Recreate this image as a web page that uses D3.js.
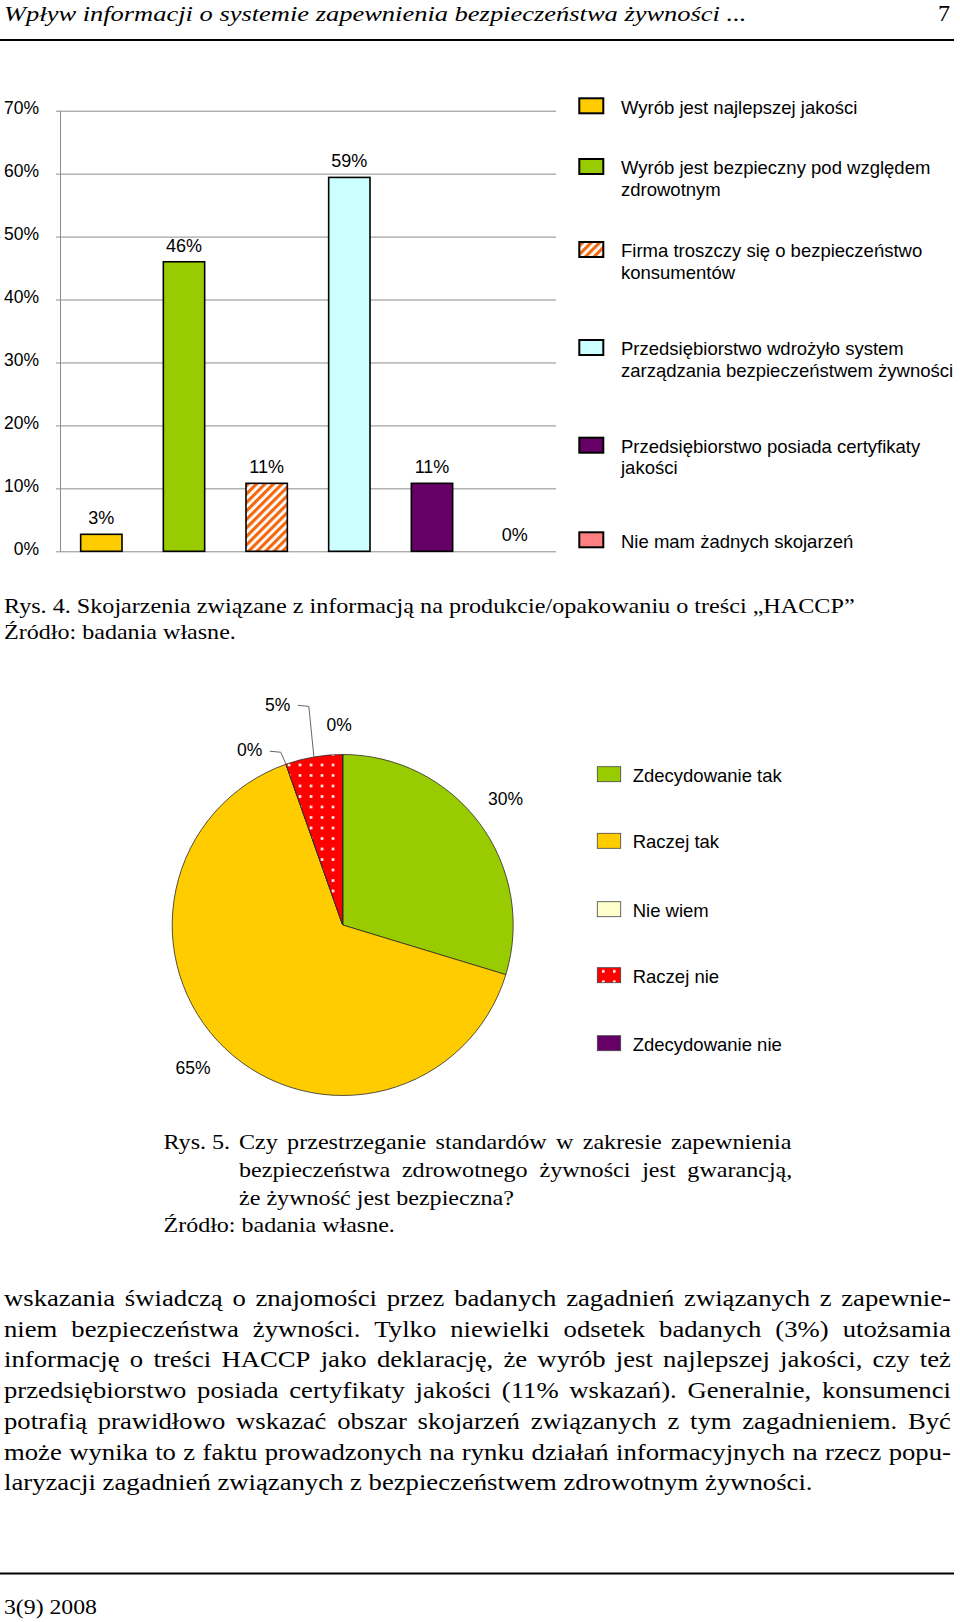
<!DOCTYPE html>
<html><head><meta charset="utf-8">
<script src="https://cdn.jsdelivr.net/npm/d3@7"></script>
<style>body{margin:0;background:#fff} svg{display:block}</style>
</head><body>
<svg id="page" width="960" height="1622"></svg>
<script>
// ---------------- DATA ----------------
const barCategories = ["Wyrób jest najlepszej jakości", "Wyrób jest bezpieczny pod względem zdrowotnym", "Firma troszczy się o bezpieczeństwo konsumentów", "Przedsiębiorstwo wdrożyło system zarządzania bezpieczeństwem żywności", "Przedsiębiorstwo posiada certyfikaty jakości", "Nie mam żadnych skojarzeń"];
const barLegendLines = [["Wyrób jest najlepszej jakości"], ["Wyrób jest bezpieczny pod względem", "zdrowotnym"], ["Firma troszczy się o bezpieczeństwo", "konsumentów"], ["Przedsiębiorstwo wdrożyło system", "zarządzania bezpieczeństwem żywności"], ["Przedsiębiorstwo posiada certyfikaty", "jakości"], ["Nie mam żadnych skojarzeń"]];
const barValues = [0.027, 0.46, 0.108, 0.594, 0.108, 0.00];
const barTicks = [0, 0.1, 0.2, 0.3, 0.4, 0.5, 0.6, 0.7];

const pieCategories = ["Zdecydowanie tak", "Raczej tak", "Nie wiem", "Raczej nie", "Zdecydowanie nie"];
const pieValues = [0.297, 0.649, 0.0, 0.054, 0.0];

const headerText = "Wpływ informacji o systemie zapewnienia bezpieczeństwa żywności ...";
const pageNumber = "7";
const caption4 = ["Rys. 4. Skojarzenia związane z informacją na produkcie/opakowaniu o treści „HACCP”", "Źródło: badania własne."];
const caption5Prefix = "Rys. 5.";
const caption5 = ["Czy przestrzeganie standardów w zakresie zapewnienia", "bezpieczeństwa zdrowotnego żywności jest gwarancją,", "że żywność jest bezpieczna?", "Źródło: badania własne."];
const bodyLines = [
  "wskazania świadczą o znajomości przez badanych zagadnień związanych z zapewnie-",
  "niem bezpieczeństwa żywności. Tylko niewielki odsetek badanych (3%) utożsamia",
  "informację o treści HACCP jako deklarację, że wyrób jest najlepszej jakości, czy też",
  "przedsiębiorstwo posiada certyfikaty jakości (11% wskazań). Generalnie, konsumenci",
  "potrafią prawidłowo wskazać obszar skojarzeń związanych z tym zagadnieniem. Być",
  "może wynika to z faktu prowadzonych na rynku działań informacyjnych na rzecz popu-",
  "laryzacji zagadnień związanych z bezpieczeństwem zdrowotnym żywności."
];
const footerText = "3(9) 2008";

// ---------------- STYLE / LAYOUT ----------------
const SANS = "'Liberation Sans', Arial, sans-serif";
const SERIF = "'Liberation Serif', 'Times New Roman', serif";
const barFills = ["#FFCC00", "#99CC00", "url(#stripes)", "#CCFFFF", "#660066", "#FF8080"];
const pieFills = ["#99CC00", "#FFCC00", "#FFFFCC", "url(#dots)", "#660066"];
const barLegendTops = [98.3, 159, 242, 340, 437.7, 532.3];
const pieLegendTops = [766.7, 833.3, 901.7, 967.7, 1035.7];

const svg = d3.select("#page");
const defs = svg.append("defs");
const st = defs.append("pattern").attr("id", "stripes").attr("patternUnits", "userSpaceOnUse")
  .attr("width", 6).attr("height", 6).attr("patternTransform", "rotate(45)");
st.append("rect").attr("width", 6).attr("height", 6).attr("fill", "#fff");
st.append("rect").attr("width", 3.2).attr("height", 6).attr("fill", "#F26A10");
const dp = defs.append("pattern").attr("id", "dots").attr("patternUnits", "userSpaceOnUse")
  .attr("width", 11).attr("height", 10.5).attr("x", -48).attr("y", -165.3);
dp.append("rect").attr("width", 11).attr("height", 10.5).attr("fill", "#FF0000");
dp.append("rect").attr("x", 4).attr("y", 4).attr("width", 2.6).attr("height", 2.6).attr("fill", "#fff");
const dpl = defs.append("pattern").attr("id", "dotsL").attr("patternUnits", "userSpaceOnUse")
  .attr("width", 11).attr("height", 10.5).attr("x", 598).attr("y", 966);
dpl.append("rect").attr("width", 11).attr("height", 10.5).attr("fill", "#FF0000");
dpl.append("rect").attr("x", 4).attr("y", 4).attr("width", 2.6).attr("height", 2.6).attr("fill", "#fff");

const measurer = svg.append("text").attr("visibility", "hidden");
function measure(str, size, family, style) {
  measurer.attr("font-size", size).attr("font-family", family).attr("font-style", style || "normal").text(str);
  return measurer.node().getComputedTextLength();
}
function fitLine(str, x0, width, base, size, family, style) {
  const nat = measure(str, size, family, style);
  const sx = width / nat;
  svg.append("text").attr("transform", `translate(${x0},${base}) scale(${sx},1)`)
    .attr("font-family", family).attr("font-size", size).attr("font-style", style || "normal")
    .attr("fill", "#000").text(str);
  return sx;
}
function justifyLine(str, x0, x1, base, size, sx, family, prefix, prefixX) {
  const words = str.split(" ");
  const widths = words.map(w => measure(w, size, family));
  const total = d3.sum(widths);
  const avail = (x1 - x0) / sx;
  const gap = (avail - total) / (words.length - 1);
  const ox = prefix ? prefixX : x0;
  const t = svg.append("text").attr("transform", `translate(${ox},${base}) scale(${sx},1)`)
    .attr("font-family", family).attr("font-size", size).attr("fill", "#000");
  if (prefix) t.append("tspan").attr("x", 0).text(prefix + " ");
  let pos = (x0 - ox) / sx;
  words.forEach((w, i) => {
    t.append("tspan").attr("x", pos).text(w + (i < words.length - 1 ? " " : ""));
    pos += widths[i] + gap;
  });
}

// ---------------- HEADER ----------------
fitLine(headerText, 4, 743, 21, 22, SERIF, "italic");
svg.append("text").attr("x", 950).attr("y", 21).attr("text-anchor", "end")
  .attr("font-family", SERIF).attr("font-size", 24).text(pageNumber);
svg.append("line").attr("x1", 0).attr("x2", 954).attr("y1", 40).attr("y2", 40)
  .attr("stroke", "#000").attr("stroke-width", 2);

// ---------------- BAR CHART ----------------
const gB = svg.append("g");
const x = d3.scaleBand().domain(barCategories).range([60, 556]).paddingInner(0.5).paddingOuter(0.25);
const y = d3.scaleLinear().domain([0, 0.7]).range([551.3, 110.7]);
gB.append("g").attr("transform", "translate(60,0)")
  .call(d3.axisLeft(y).tickValues(barTicks).tickSize(-496).tickFormat(""))
  .call(g => { g.select(".domain").remove(); g.selectAll("line").attr("stroke", "#8c8c8c"); });
gB.append("g").attr("transform", "translate(60,0)")
  .call(d3.axisLeft(y).tickValues(barTicks).tickSize(4).tickSizeOuter(0).tickPadding(17).tickFormat(d3.format(".0%")))
  .call(g => {
    g.select(".domain").attr("stroke", "#8c8c8c");
    g.selectAll(".tick line").attr("stroke", "#8c8c8c");
    g.selectAll("text").attr("font-family", SANS).attr("font-size", 17.5).attr("fill", "#000").attr("dy", "0.18em");
  });
gB.selectAll("rect.bar").data(barValues).join("rect").attr("class", "bar")
  .attr("x", (d, i) => x(barCategories[i])).attr("y", d => y(d))
  .attr("width", x.bandwidth()).attr("height", d => y(0) - y(d))
  .attr("fill", (d, i) => barFills[i]).attr("stroke", "#000").attr("stroke-width", 1.6);
gB.selectAll("text.val").data(barValues).join("text").attr("class", "val")
  .attr("x", (d, i) => x(barCategories[i]) + x.bandwidth() / 2).attr("y", d => y(d) - 10)
  .attr("text-anchor", "middle").attr("font-family", SANS).attr("font-size", 18)
  .text(d => d3.format(".0%")(d));
// legend
const lg = gB.selectAll("g.leg").data(barLegendLines).join("g").attr("class", "leg");
lg.append("rect").attr("x", 579.3).attr("y", (d, i) => barLegendTops[i]).attr("width", 24).attr("height", 15)
  .attr("fill", (d, i) => barFills[i]).attr("stroke", "#000").attr("stroke-width", 2);
lg.each(function (lines, i) {
  const t = d3.select(this).append("text").attr("font-family", SANS).attr("font-size", 18.5);
  lines.forEach((ln, k) => t.append("tspan").attr("x", 621).attr("y", barLegendTops[i] + 15.4 + k * 21.3).text(ln));
});

// ---------------- CAPTION 4 ----------------
fitLine(caption4[0], 4, 851, 613, 22, SERIF);
fitLine(caption4[1], 4, 232, 639, 22, SERIF);

// ---------------- PIE CHART ----------------
const R = 170.5;
const pieG = svg.append("g").attr("transform", "translate(342.7,925)");
const arcs = d3.pie().sort(null).value(d => d)(pieValues);
const arc = d3.arc().innerRadius(0).outerRadius(R);
pieG.selectAll("path").data(arcs).join("path").attr("d", arc)
  .attr("fill", (d, i) => pieFills[i]).attr("stroke", "#2a2a2a").attr("stroke-width", 0.8);
const labelPlace = [{ r: 206, da: -1.2 }, { r: 207, da: 2.6 }, { r: 198, da: -8.6, leader: true }, { r: 230, da: -6.7, leader: true }, { r: 200, da: -1 }];
const fmt = d3.format(".0%");
arcs.forEach((d, i) => {
  const mid = (d.startAngle + d.endAngle) / 2;
  const p = labelPlace[i];
  const a = mid + p.da * Math.PI / 180;
  const lx = p.r * Math.sin(a), ly = -p.r * Math.cos(a);
  const txt = fmt(d.data);
  pieG.append("text").attr("x", lx).attr("y", ly).attr("dy", "0.35em").attr("text-anchor", "middle")
    .attr("font-family", SANS).attr("font-size", 17.5).text(txt);
  if (p.leader) {
    const w = measure(txt, 17.5, SANS);
    const sx0 = lx + w / 2 + 7.5, sy0 = ly + 1;
    const ex = R * Math.sin(mid), ey = -R * Math.cos(mid);
    pieG.append("path").attr("d", d3.line()([[sx0, sy0], [sx0 + 11, sy0 + 1], [ex, ey]]))
      .attr("fill", "none").attr("stroke", "#666").attr("stroke-width", 1);
  }
});
// pie legend
const plg = svg.selectAll("g.pleg").data(pieCategories).join("g").attr("class", "pleg");
plg.append("rect").attr("x", 597.3).attr("y", (d, i) => pieLegendTops[i]).attr("width", 23.4).attr("height", 15)
  .attr("fill", (d, i) => i === 3 ? "url(#dotsL)" : pieFills[i]).attr("stroke", "#444").attr("stroke-width", 0.8);
plg.append("text").attr("x", 632.7).attr("y", (d, i) => pieLegendTops[i] + 14.9)
  .attr("font-family", SANS).attr("font-size", 18.5).text(d => d);

// ---------------- CAPTION 5 ----------------
const sx5 = 275 / measure(caption5[2], 22, SERIF);
justifyLine(caption5[0], 239, 791.4, 1149, 22, sx5, SERIF, caption5Prefix, 163.5);
justifyLine(caption5[1], 239, 792.4, 1177, 22, sx5, SERIF);
fitLine(caption5[2], 239, 275, 1205, 22, SERIF);
fitLine(caption5[3], 163.5, 231.5, 1232, 22, SERIF);

// ---------------- BODY ----------------
const bodySx = 809 / measure(bodyLines[6], 24, SERIF);
bodyLines.forEach((ln, i) => {
  const base = 1306 + i * 30.7;
  if (i < bodyLines.length - 1) justifyLine(ln, 4, 951, base, 24, bodySx, SERIF);
  else fitLine(ln, 4, 809, base, 24, SERIF);
});

// ---------------- FOOTER ----------------
svg.append("line").attr("x1", 0).attr("x2", 954).attr("y1", 1573.5).attr("y2", 1573.5)
  .attr("stroke", "#000").attr("stroke-width", 2);
fitLine(footerText, 4, 93, 1614, 22, SERIF);
measurer.remove();
</script>
</body></html>
